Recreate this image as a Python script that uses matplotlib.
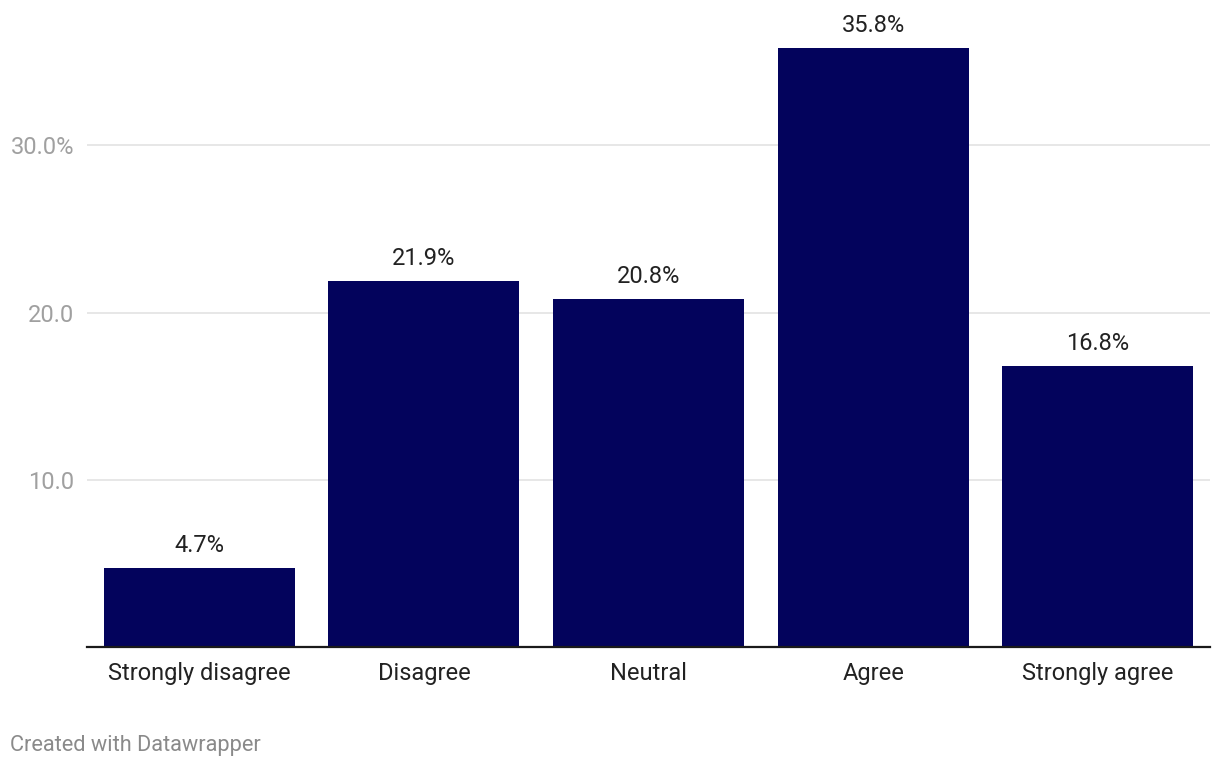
import matplotlib.pyplot as plt

plt.rcParams['font.family'] = ['Roboto', 'DejaVu Sans']

# Data
categories = ['Strongly disagree', 'Disagree', 'Neutral', 'Agree', 'Strongly agree']
values = [4.7, 21.9, 20.8, 35.8, 16.8]
y_ticks = [10, 20, 30]
y_tick_labels = ['10.0', '20.0', '30.0%']

fig = plt.figure(figsize=(12.2, 7.68), dpi=100)
ax = fig.add_axes([87 / 1220, 1 - 647 / 768, (1210 - 87) / 1220, (647 - 45) / 768])

x = range(len(categories))
ax.bar(x, values, width=0.851, color='#03035c', zorder=2)

# Value labels above bars
for xi, v in zip(x, values):
    ax.annotate(f'{v}%', (xi, v), xytext=(0, 8), textcoords='offset points',
                ha='center', va='bottom', fontsize=17, color='#222222',
                annotation_clip=False)

ax.set_xlim(-0.5, 4.5)
ax.set_ylim(0, 36)
ax.set_yticks(y_ticks)
ax.set_yticklabels(y_tick_labels)
ax.set_xticks(list(x))
ax.set_xticklabels(categories)

ax.grid(axis='y', color='#e3e3e3', linewidth=1.2, zorder=0)
for side in ['top', 'right', 'left']:
    ax.spines[side].set_visible(False)
ax.spines['bottom'].set_color('#1a1a1a')
ax.spines['bottom'].set_linewidth(1.6)
ax.spines['bottom'].set_zorder(3)

ax.tick_params(axis='y', length=0, pad=9, labelsize=17, labelcolor='#a0a0a0')
ax.tick_params(axis='x', length=0, pad=11, labelsize=17, labelcolor='#222222')

fig.text(10 / 1220, 1 - 745 / 768, 'Created with Datawrapper', fontsize=15.7,
         color='#8a8a8a', ha='left', va='center')

fig.savefig('out.png', dpi=100)
